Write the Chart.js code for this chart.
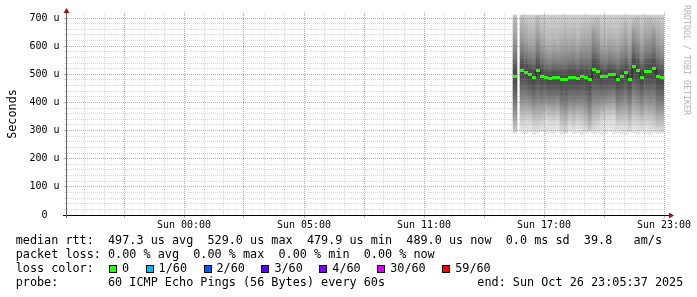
<!DOCTYPE html>
<html>
<head>
<meta charset="utf-8">
<script src="https://cdn.jsdelivr.net/npm/chart.js@4/dist/chart.umd.min.js"></script>
<style>
  body { margin: 0; background: #fff; }
  #wrap { position: relative; width: 697px; height: 297px; overflow: hidden; font-family: "DejaVu Sans Mono", monospace; color: #000; }
  #c { position: absolute; left: 0; top: 0; }
  .row { position: absolute; font-size: 11.8px; line-height: 14px; white-space: pre; }
  .box { position: absolute; width: 6px; height: 6px; border: 1px solid #000; }
  #credit { position: absolute; left: 692px; top: 5px; transform-origin: 0 0; transform: rotate(90deg);
            font-size: 8.3px; line-height: 10px; white-space: pre; color: #b4b4b4; }
</style>
</head>
<body>
<div id="wrap">
  <canvas id="c" width="697" height="297"></canvas>
  <div id="credit">RRDTOOL / TOBI OETIKER</div>
</div>
<script>
// hours since Sun 00:00 (real time, the DST switch makes 00:00 -> 05:00 six hours)
const stepHours = [16.55, 16.9, 17.1, 17.3, 17.5, 17.7, 17.9, 18.1, 18.3, 18.5, 18.7, 18.9,
  19.1, 19.3, 19.5, 19.7, 19.9, 20.1, 20.3, 20.5, 20.7, 20.9, 21.1, 21.3, 21.5, 21.7, 21.9,
  22.1, 22.3, 22.5, 22.7, 22.9, 23.1, 23.3, 23.5, 23.7, 23.9];
// median rtt in microseconds
const medianRtt = [493, 515, 508, 498, 490, 513, 494, 490, 484, 488, 488, 481, 481, 490, 490,
  486, 494, 490, 481, 518, 509, 493, 493, 500, 498, 482, 494, 506, 482, 529, 514, 490, 511,
  511, 521, 494, 487];
// spread of the individual pings (smoke)
const smokeMax = [711, 711, 711, 711, 711, 711, 711, 711, 711, 711, 711, 711, 711, 711, 711,
  711, 711, 711, 711, 711, 711, 711, 711, 711, 711, 711, 711, 711, 711, 711, 711, 711, 711,
  711, 711, 711, 711];
const smokeMin = [290, 293, 289, 295, 287, 291, 296, 286, 292, 288, 294, 285, 290, 297, 289,
  293, 286, 291, 295, 288, 292, 284, 290, 296, 287, 293, 289, 285, 294, 291, 288, 295, 290,
  286, 293, 289, 291];
// how wide the dense core of the pings is, per step
const smokeCore = [1.25, 1.1, 1.0, 0.95, 1.0, 1.15, 1.0, 0.85, 0.85, 0.9, 0.85, 1.0, 1.05,
  0.95, 1.0, 0.9, 1.0, 1.05, 1.15, 1.2, 1.1, 0.9, 0.85, 0.9, 0.85, 0.95, 1.0, 1.05, 1.0,
  1.15, 1.1, 1.0, 1.05, 1.1, 1.2, 1.15, 1.05];

const tickHours = [0, 6, 12, 18, 24];
const tickLabels = ["Sun 00:00", "Sun 05:00", "Sun 11:00", "Sun 17:00", "Sun 23:00"];

const lossLabels = ["0", "1/60", "2/60", "3/60", "4/60", "30/60", "59/60"];
const lossColors = ["#26ff00", "#00b8ff", "#0059ff", "#5e00ff", "#7e00ff", "#dd00ff", "#ff0000"];

const legendRows = [
  "median rtt:  497.3 us avg  529.0 us max  479.9 us min  489.0 us now  0.0 ms sd  39.8   am/s",
  "packet loss: 0.00 % avg  0.00 % max  0.00 % min  0.00 % now",
  "loss color:",
  "probe:       60 ICMP Echo Pings (56 Bytes) every 60s             end: Sun Oct 26 23:05:37 2025"
];

// --- legend text under the graph ---
const wrap = document.getElementById("wrap");
legendRows.forEach((txt, i) => {
  const d = document.createElement("div");
  d.className = "row";
  d.style.left = "15.7px";
  d.style.top = (233 + i * 14) + "px";
  d.textContent = txt;
  wrap.appendChild(d);
});
let lx = 109;
lossLabels.forEach((lab, i) => {
  const b = document.createElement("div");
  b.className = "box";
  b.style.left = lx + "px";
  b.style.top = "265px";
  b.style.background = lossColors[i];
  wrap.appendChild(b);
  const t = document.createElement("div");
  t.className = "row";
  t.style.left = (lx + 13) + "px";
  t.style.top = "261px";
  t.textContent = lab;
  wrap.appendChild(t);
  lx += 13 + lab.length * 7.1 + 16.5;
});

// --- styles (rrdtool grid colours) ---
const MAJOR = "rgba(222,79,79,0.6)";
const MINOR = "rgba(150,150,150,0.35)";
const monoFont = "DejaVu Sans Mono";

const xGrid = [];
for (let h = -5; h <= 24; h++) xGrid.push(h);
const yGrid = [];
for (let v = 0; v <= 700; v += 20) yGrid.push(v);

// gray levels of the smoke relative to the median
const smokeShades = [[167, "#bababa"], [114, "#a2a2a2"], [61, "#7c7c7c"], [20, "#505050"],
  [0, "#474747"], [-20, "#4e4e4e"], [-46, "#606060"], [-81, "#7e7e7e"], [-117, "#a2a2a2"],
  [-152, "#c4c4c4"], [-181, "#dadada"]];

function smokeFill(ctx) {
  const chart = ctx.chart;
  if (!chart.chartArea || ctx.type !== "data") return "#888";
  const i = ctx.dataIndex;
  const y = chart.scales.y;
  const top = y.getPixelForValue(smokeMax[i]);
  const bot = y.getPixelForValue(smokeMin[i]);
  const g = chart.ctx.createLinearGradient(0, top, 0, bot);
  g.addColorStop(0, "#cecece");
  smokeShades.forEach(([off, col]) => {
    const f = (y.getPixelForValue(medianRtt[i] + off * smokeCore[i]) - top) / (bot - top);
    if (f > 0 && f < 1) g.addColorStop(f, col);
  });
  g.addColorStop(1, "#e8e8e8");
  return g;
}

// green median mark, one rrd step wide
const greenMark = document.createElement("canvas");
greenMark.width = 4;
greenMark.height = 3;
const gctx = greenMark.getContext("2d");
gctx.fillStyle = lossColors[0];
gctx.fillRect(0, 0, 4, 3);

const smokeData = stepHours.map((h, i) => ({ x: h, y: [smokeMin[i], smokeMax[i]] }));
const medianData = stepHours.map((h, i) => ({ x: h, y: medianRtt[i] }));
const lineData = [];
stepHours.forEach((h, i) => {
  if (i > 0 && h - stepHours[i - 1] > 0.25) lineData.push({ x: (h + stepHours[i - 1]) / 2, y: null });
  lineData.push({ x: h, y: medianRtt[i] });
});

const axesPlugin = {
  id: "rrdAxes",
  beforeDraw(chart) { chart.ctx.imageSmoothingEnabled = false; },
  afterDraw(chart) {
    const c = chart.ctx;
    const { left, top, bottom, right } = chart.chartArea;
    c.save();
    c.lineWidth = 1;
    c.strokeStyle = "#000";
    c.beginPath();
    c.moveTo(left - 4, bottom + 0.5);
    c.lineTo(right + 6, bottom + 0.5);
    c.stroke();
    c.strokeStyle = "#606060";
    c.beginPath();
    c.moveTo(left - 0.5, bottom + 3);
    c.lineTo(left - 0.5, top);
    c.stroke();
    c.fillStyle = "#a31010";
    c.beginPath();
    c.moveTo(right + 5, bottom - 2.5);
    c.lineTo(right + 5, bottom + 3.5);
    c.lineTo(right + 10, bottom + 0.5);
    c.fill();
    c.beginPath();
    c.moveTo(left - 3.5, top);
    c.lineTo(left + 2.5, top);
    c.lineTo(left - 0.5, top - 5);
    c.fill();
    c.restore();
  }
};

new Chart(document.getElementById("c"), {
  type: "bar",
  data: {
    datasets: [
      { type: "line", data: medianData, showLine: false, pointStyle: greenMark, pointRadius: 2, order: 0 },
      { type: "line", data: lineData, stepped: "middle", borderColor: "#1a1a1a", borderWidth: 1,
        pointRadius: 0, spanGaps: false, order: 1 },
      { type: "bar", data: smokeData, backgroundColor: smokeFill, borderWidth: 0, barThickness: 4,
        grouped: false, order: 2 }
    ]
  },
  options: {
    responsive: false,
    animation: false,
    events: [],
    layout: { padding: { top: 13, right: 33, bottom: 62, left: 0 } },
    plugins: { legend: { display: false }, tooltip: { enabled: false } },
    scales: {
      x: {
        type: "linear", min: -5.85, max: 24, offset: false,
        grid: { offset: false, z: 1, lineWidth: 1, tickLength: 3,
          color: c => (c.tick && c.tick.value % 3 === 0 ? MAJOR : MINOR),
          tickColor: c => (c.tick && c.tick.value % 3 === 0 ? MAJOR : "rgba(0,0,0,0)") },
        border: { display: false, dash: [1, 1] },
        afterBuildTicks: s => { s.ticks = xGrid.map(v => ({ value: v })); },
        afterFit: s => { s.height = 20; s.paddingLeft = 0; s.paddingRight = 0; },
        ticks: { autoSkip: false, maxRotation: 0, padding: 1, color: "#000",
          font: { family: monoFont, size: 10 },
          callback: v => { const k = tickHours.indexOf(v); return k >= 0 ? tickLabels[k] : ""; } }
      },
      y: {
        type: "linear", min: 0, max: 718,
        grid: { z: 1, lineWidth: 1, tickLength: 3,
          color: c => (c.tick && c.tick.value % 100 === 0 ? MAJOR : MINOR),
          tickColor: c => (c.tick && c.tick.value % 100 === 0 ? MAJOR : MINOR) },
        border: { display: false, dash: [1, 1] },
        afterBuildTicks: s => { s.ticks = yGrid.map(v => ({ value: v })); },
        afterFit: s => { s.width = 67; s.paddingTop = 0; s.paddingBottom = 0; },
        title: { display: true, text: "Seconds", color: "#000", padding: { top: 6, bottom: 0 },
          font: { family: monoFont, size: 11.8 } },
        ticks: { autoSkip: false, padding: 4.5, color: "#000",
          font: { family: monoFont, size: 10 },
          callback: v => (v % 100 === 0 ? (v === 0 ? "0  " : v + " u") : "") }
      }
    }
  },
  plugins: [axesPlugin]
});
</script>
</body>
</html>
